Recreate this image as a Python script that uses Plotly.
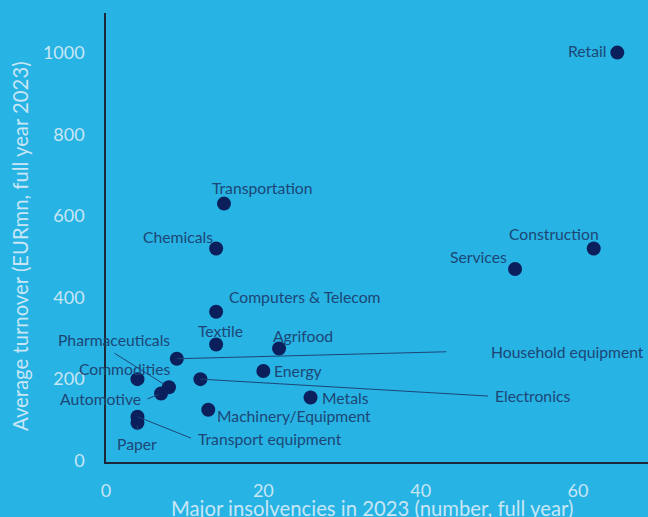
import plotly.graph_objects as go

sectors = ["Retail", "Construction", "Services", "Transportation", "Chemicals",
           "Computers & Telecom", "Textile", "Agrifood", "Household equipment",
           "Energy", "Commodities", "Electronics", "Pharmaceuticals", "Automotive",
           "Metals", "Machinery/Equipment", "Transport equipment", "Paper"]
insolvencies = [65, 62, 52, 15, 14, 14, 14, 22, 9, 20, 4, 12, 8, 7, 26, 13, 4, 4]
turnover = [1000, 520, 470, 630, 520, 365, 285, 275, 250, 220, 200, 200, 180, 165, 155, 125, 108, 93]

x_ticks = [0, 20, 40, 60]
y_ticks = [0, 200, 400, 600, 800, 1000]

# label placement: (xanchor, xshift, yshift)
label_pos = {
    "Retail": ("right", -9, 2),
    "Construction": ("right", 7, 15),
    "Services": ("right", -6, 12),
    "Transportation": ("left", -14, 16),
    "Chemicals": ("right", -1, 12),
    "Computers & Telecom": ("left", 11, 15),
    "Textile": ("center", 4, 13),
    "Agrifood": ("left", -8, 13),
    "Household equipment": ("left", 312, 7),
    "Energy": ("left", 9, 0),
    "Commodities": ("center", -13, 10),
    "Electronics": ("left", 293, -17),
    "Pharmaceuticals": ("right", 3, 47),
    "Automotive": ("right", -18, -6),
    "Metals": ("left", 9, 0),
    "Machinery/Equipment": ("left", 7, -6),
    "Transport equipment": ("left", 59, -22),
    "Paper": ("center", 0, -21),
}
# leader lines: (ax, ay, standoff) in pixels relative to the point
leaders = {
    "Household equipment": (271, -7, 0),
    "Electronics": (289, 17, 0),
    "Pharmaceuticals": (-56, -35, 6),
    "Automotive": (-15, 6, 3),
    "Transport equipment": (55, 22, 0),
    "Paper": (0, 9, 3),
}

BG = "#27b3e3"
LABEL = "#1d4677"
TICK = "#c8e6f6"
FONT = "Lato"

fig = go.Figure()
fig.add_trace(go.Scatter(
    x=insolvencies, y=turnover, mode="markers",
    marker=dict(size=14, color="#0b1f5c", line=dict(width=0)),
    text=sectors, hoverinfo="text", showlegend=False, cliponaxis=False,
))

annotations = []
for name, xv, yv in zip(sectors, insolvencies, turnover):
    if name in leaders:
        ax, ay, so = leaders[name]
        annotations.append(dict(
            x=xv, y=yv, xref="x", yref="y", text="", showarrow=True,
            arrowhead=0, arrowwidth=1, arrowcolor=LABEL,
            ax=ax, ay=ay, standoff=so,
        ))
    xa, xs, ys = label_pos[name]
    annotations.append(dict(
        x=xv, y=yv, xref="x", yref="y", text=name, showarrow=False,
        xanchor=xa, yanchor="middle", xshift=xs, yshift=ys,
        font=dict(family=FONT, size=15.7, color=LABEL),
    ))

# axis titles
annotations.append(dict(
    x=0.49, y=0, xref="paper", yref="paper", yshift=-46,
    text="Major insolvencies in 2023 (number, full year)", showarrow=False,
    xanchor="center", yanchor="middle",
    font=dict(family=FONT, size=20.3, color=TICK),
))
annotations.append(dict(
    x=-0.1587, y=0.481, xref="paper", yref="paper", textangle=-90,
    text="Average turnover (EURmn, full year 2023)", showarrow=False,
    xanchor="center", yanchor="middle",
    font=dict(family=FONT, size=20.3, color=TICK),
))

fig.update_layout(
    width=648, height=517,
    margin=dict(l=106, r=0, t=13, b=55),
    paper_bgcolor=BG, plot_bgcolor=BG,
    font=dict(family=FONT, color=TICK),
    annotations=annotations,
    xaxis=dict(
        range=[0, 68.9], tickvals=x_ticks, showgrid=False, zeroline=False,
        showline=True, linecolor="#1a2838", linewidth=1.5,
        tickfont=dict(family=FONT, size=18, color=TICK),
        ticklabelstandoff=12,
    ),
    yaxis=dict(
        range=[-3, 1097], tickvals=y_ticks, showgrid=False, zeroline=False,
        showline=True, linecolor="#1a2838", linewidth=1.5,
        tickfont=dict(family=FONT, size=18, color=TICK),
        ticklabelstandoff=16,
    ),
)

fig.write_html(
    "out.html",
    config={"displayModeBar": False},
    post_script="document.body.style.margin='0';document.body.style.background='#27b3e3';document.body.style.overflow='hidden';",
)
